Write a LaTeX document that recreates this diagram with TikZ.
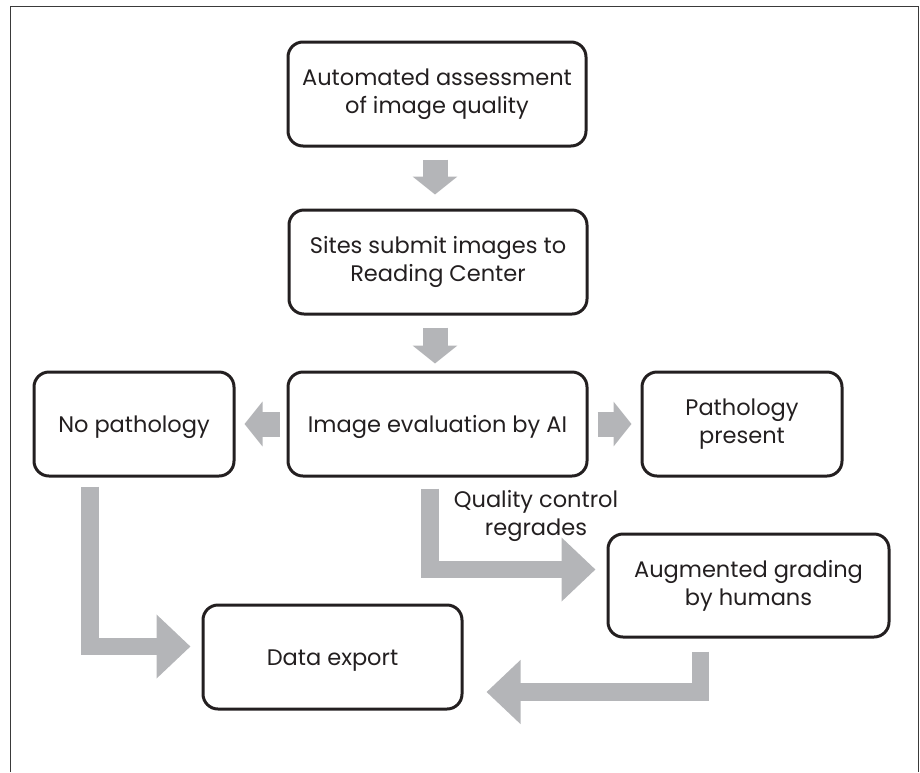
\documentclass[tikz,border=0pt]{standalone}
\usepackage{fontspec}
\setmainfont{Poppins}
\usetikzlibrary{arrows.meta,calc}
\definecolor{ink}{HTML}{231F20}
\definecolor{flow}{HTML}{B4B5B8}
\definecolor{frame}{HTML}{3A3A3A}
\begin{document}
\begin{tikzpicture}[x=1pt,y=-1pt,
  stage/.style={draw=ink,line width=3pt,rounded corners=15pt,
    text=ink,align=center,inner sep=0pt,
    font=\fontsize{22.5}{28}\selectfont,
    % a tall strut on the first line sets the text a little low in the box
    execute at begin node={\rule{0pt}{23pt}}},
  blockarrow/.style={draw=flow,line width=25pt,
    -{Triangle[length=18pt,width=44pt]}},
  bendarrow/.style={draw=flow,line width=17.5pt,miter limit=10,
    -{Triangle[length=34pt,width=62pt]}}]
\useasboundingbox (0,0) rectangle (920,772);
% open frame round the chart
\draw[frame,line width=1pt] (10,772) -- (10,6) -- (918,6) -- (918,772);

% stages
\node[stage,minimum width=298pt,minimum height=104pt] (auto) at (437,94)
  {Automated assessment\\of image quality};
\node[stage,minimum width=298pt,minimum height=104pt] (sites) at (438,262)
  {Sites submit images to\\Reading Center};
\node[stage,minimum width=299pt,minimum height=104pt] (eval) at (437.5,424)
  {Image evaluation by AI};
\node[stage,minimum width=200pt,minimum height=104pt] (nopath) at (134,424)
  {No pathology};
\node[stage,minimum width=200pt,minimum height=104pt] (path) at (742,424)
  {Pathology\\present};
\node[stage,minimum width=281pt,minimum height=103pt] (aug) at (748.5,585.5)
  {Augmented grading\\by humans};
\node[stage,minimum width=259pt,minimum height=104pt] (export) at (332.5,657)
  {Data export};

% straight flow arrows
\draw[blockarrow] ($(auto.south)+(-2,12)$) -- ($(sites.north)+(-3,-14)$);
\draw[blockarrow] ($(sites.south)+(-3,12)$) -- ($(eval.south)+(-2.5,-114)$);
\draw[blockarrow] ($(eval.west)+(-7,0)$) -- ($(nopath.east)+(9,0)$);
\draw[blockarrow] ($(eval.east)+(9,0)$) -- ($(path.west)+(-9,0)$);

% elbow flow arrows
\coordinate (qcstart) at ($(eval.south west)+(143.5,11)$);
\coordinate (qcend) at ($(aug.west)+(-11,-16)$);
\draw[bendarrow] (qcstart) |- (qcend);
\coordinate (npstart) at ($(nopath.south west)+(57.5,9)$);
\coordinate (npend) at ($(export.west)+(-11,-10.5)$);
\draw[bendarrow] (npstart) |- (npend);
\coordinate (agstart) at ($(aug.south west)+(94,13)$);
\coordinate (agend) at ($(export.east)+(23,35)$);
\draw[bendarrow] (agstart) |- (agend);

\node[text=ink,align=center,font=\fontsize{22.5}{28}\selectfont] (qc) at (536,516)
  {Quality control\\regrades};
\end{tikzpicture}
\end{document}
